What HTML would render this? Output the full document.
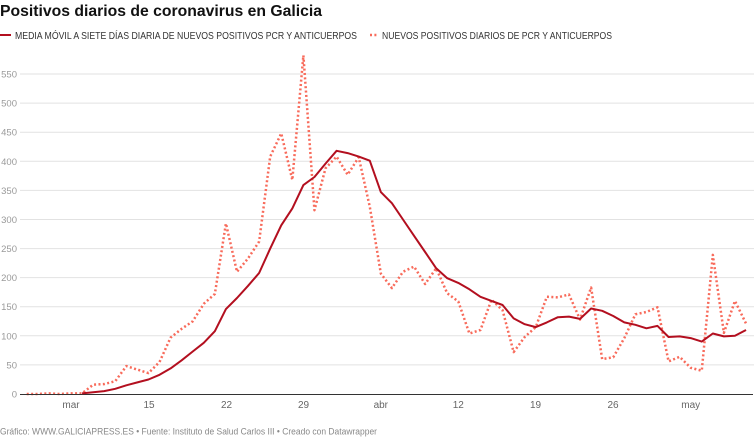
<!DOCTYPE html>
<html>
<head>
<meta charset="utf-8">
<style>
html,body{margin:0;padding:0;background:#fff;}
svg{display:block;}
text{font-family:"Liberation Sans",sans-serif;}
</style>
</head>
<body>
<svg width="756" height="441" viewBox="0 0 756 441" xmlns="http://www.w3.org/2000/svg">
<rect width="756" height="441" fill="#fff"/>
<text x="0" y="16" font-size="15.8" font-weight="bold" fill="#111" textLength="322" lengthAdjust="spacingAndGlyphs">Positivos diarios de coronavirus en Galicia</text>

<line x1="0" y1="35" x2="11" y2="35" stroke="#b30f1f" stroke-width="2"/>
<text x="15" y="39" font-size="9.8" fill="#333" textLength="342" lengthAdjust="spacingAndGlyphs">MEDIA MÓVIL A SIETE DÍAS DIARIA DE NUEVOS POSITIVOS PCR Y ANTICUERPOS</text>
<line x1="370" y1="35" x2="378" y2="35" stroke="#f86b5b" stroke-width="2.5" stroke-dasharray="2 2.4"/>
<text x="382" y="39" font-size="9.8" fill="#333" textLength="230" lengthAdjust="spacingAndGlyphs">NUEVOS POSITIVOS DIARIOS DE PCR Y ANTICUERPOS</text>

<g stroke="#e2e2e2" stroke-width="1">
<line x1="20" y1="74" x2="754" y2="74"/>
<line x1="20" y1="103.1" x2="754" y2="103.1"/>
<line x1="20" y1="132.2" x2="754" y2="132.2"/>
<line x1="20" y1="161.3" x2="754" y2="161.3"/>
<line x1="20" y1="190.4" x2="754" y2="190.4"/>
<line x1="20" y1="219.5" x2="754" y2="219.5"/>
<line x1="20" y1="248.6" x2="754" y2="248.6"/>
<line x1="20" y1="277.6" x2="754" y2="277.6"/>
<line x1="20" y1="306.7" x2="754" y2="306.7"/>
<line x1="20" y1="335.8" x2="754" y2="335.8"/>
<line x1="20" y1="364.9" x2="754" y2="364.9"/>
</g>

<g font-size="9.5" fill="#9a9a9a" text-anchor="end">
<text x="17" y="77.5">550</text>
<text x="17" y="106.6">500</text>
<text x="17" y="135.7">450</text>
<text x="17" y="164.8">400</text>
<text x="17" y="193.9">350</text>
<text x="17" y="223">300</text>
<text x="17" y="252.1">250</text>
<text x="17" y="281.1">200</text>
<text x="17" y="310.2">150</text>
<text x="17" y="339.3">100</text>
<text x="17" y="368.4">50</text>
<text x="17" y="397.5">0</text>
</g>

<g font-size="10" fill="#666" text-anchor="middle">
<text x="71" y="408">mar</text>
<text x="149" y="408">15</text>
<text x="226.5" y="408">22</text>
<text x="303.5" y="408">29</text>
<text x="380.8" y="408">abr</text>
<text x="458.3" y="408">12</text>
<text x="535.5" y="408">19</text>
<text x="613" y="408">26</text>
<text x="690.7" y="408">may</text>
</g>

<polyline fill="none" stroke="#f86b5b" stroke-width="2.5" stroke-dasharray="2 2.4" stroke-linejoin="round" points="26.74,394 37.80,394 48.87,393.4 59.93,394 71,393.4 82.07,393.4 93.13,384.7 104.20,384.1 115.26,381.2 126.33,366.1 137.40,369.6 148.46,373.1 159.53,362.0 170.59,337.6 181.66,328.8 192.73,321.3 203.79,303.8 214.86,293.9 225.92,223.5 236.99,271.8 248.06,258.4 259.12,241.6 270.19,156.6 281.25,133.4 292.32,179.9 303.39,55.4 314.45,210.2 325.52,168.3 336.58,156.6 347.65,174.7 358.72,157.2 369.78,206.7 380.85,273.6 391.91,288.1 402.98,271.8 414.05,266.6 425.11,284.0 436.18,268.3 447.24,293.3 458.31,301.5 469.38,333.5 480.44,330.0 491.51,299.7 502.57,310.2 513.64,352.1 524.71,337.0 535.77,327.1 546.84,296.8 557.90,297.4 568.97,294.5 580.04,319.5 591.10,287.5 602.17,359.1 613.23,357.3 624.30,338.1 635.37,314.3 646.43,312.0 657.50,307.3 668.56,361.4 679.63,356.8 690.70,367.8 701.76,370.7 712.83,254.9 723.89,332.9 734.96,300.9 746.03,323.6"/>

<line x1="20" y1="394.5" x2="753" y2="394.5" stroke="#333" stroke-width="1"/>

<polyline fill="none" stroke="#b30f1f" stroke-width="2" stroke-linejoin="round" points="82.07,393.4 93.13,392.3 104.20,391.1 115.26,388.8 126.33,385.3 137.40,382.4 148.46,379.5 159.53,374.8 170.59,368.4 181.66,360.3 192.73,351.5 203.79,342.8 214.86,331.2 225.92,309.1 236.99,298.0 248.06,285.8 259.12,273.0 270.19,248.6 281.25,225.3 292.32,208.4 303.39,185.1 314.45,177.0 325.52,163.6 336.58,150.8 347.65,153.1 358.72,156.6 369.78,160.7 380.85,192.1 391.91,203.2 402.98,219.5 414.05,235.8 425.11,252.0 436.18,268.3 447.24,278.2 458.31,282.9 469.38,289.3 480.44,296.8 491.51,300.9 502.57,305.0 513.64,318.4 524.71,324.2 535.77,327.1 546.84,322.4 557.90,317.2 568.97,316.6 580.04,318.9 591.10,308.5 602.17,310.8 613.23,316.0 624.30,322.4 635.37,324.8 646.43,328.3 657.50,325.9 668.56,337.0 679.63,336.4 690.70,338.1 701.76,341.6 712.83,333.5 723.89,336.4 734.96,335.8 746.03,330.0"/>

<text x="0" y="434.5" font-size="9.6" fill="#888" textLength="377" lengthAdjust="spacingAndGlyphs">Gráfico: WWW.GALICIAPRESS.ES • Fuente: Instituto de Salud Carlos III • Creado con Datawrapper</text>
</svg>
</body>
</html>
